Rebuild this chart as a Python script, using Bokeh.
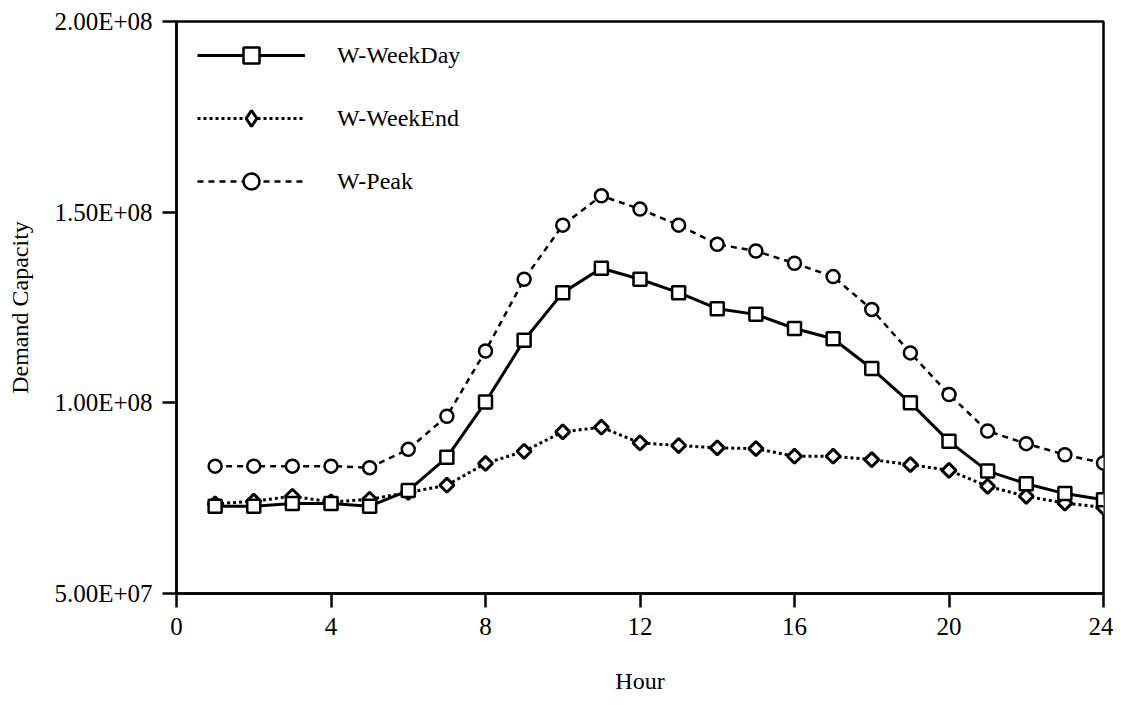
import math
from bokeh.plotting import figure
from bokeh.models import ColumnDataSource, Legend, LegendItem, FixedTicker, Range1d
from bokeh.embed import file_html
from bokeh.resources import INLINE

# ---- data ----
hours = list(range(1, 25))
weekday = [72.9, 72.9, 73.6, 73.6, 72.9, 77.0, 85.7, 100.2, 116.4, 128.9, 135.3, 132.4,
           128.9, 124.7, 123.2, 119.5, 116.8, 109.0, 100.0, 89.9, 82.1, 78.8, 76.2, 74.6]
weekend = [73.5, 74.2, 75.5, 74.0, 74.7, 76.5, 78.4, 84.1, 87.3, 92.4, 93.6, 89.5,
           88.8, 88.2, 88.0, 86.0, 86.0, 85.1, 83.8, 82.3, 78.1, 75.5, 73.7, 72.6]
peak = [83.4, 83.4, 83.4, 83.4, 83.0, 87.8, 96.5, 113.6, 132.4, 146.6, 154.3, 150.8,
        146.6, 141.6, 139.8, 136.6, 133.1, 124.5, 113.1, 102.2, 92.6, 89.3, 86.4, 84.2]
series_names = ["W-WeekDay", "W-WeekEnd", "W-Peak"]
x_ticks = [0, 4, 8, 12, 16, 20, 24]
y_ticks = [5.0e7, 1.0e8, 1.5e8, 2.0e8]
y_tick_labels = ["5.00E+07", "1.00E+08", "1.50E+08", "2.00E+08"]

scale = 1e6
src = ColumnDataSource(dict(
    x=hours,
    wd=[v * scale for v in weekday],
    we=[v * scale for v in weekend],
    pk=[v * scale for v in peak],
))

FONT = "Liberation Serif"

p = figure(
    frame_width=927, frame_height=572,
    min_border_left=176, min_border_top=21, min_border_right=10, min_border_bottom=0,
    x_range=Range1d(0, 24), y_range=Range1d(5e7, 2e8),
    output_backend="svg", toolbar_location=None,
    background_fill_color="white", border_fill_color="white",
)
p.grid.visible = False
p.outline_line_color = "black"
p.outline_line_width = 2.5
p.outline_line_alpha = 1.0

# axes
p.xaxis.ticker = FixedTicker(ticks=x_ticks)
p.yaxis.ticker = FixedTicker(ticks=y_ticks)
p.yaxis.major_label_overrides = {t: l for t, l in zip(y_ticks, y_tick_labels)}
for ax in (p.xaxis, p.yaxis):
    ax.axis_line_color = "black"
    ax.axis_line_width = 2.5
    ax.major_tick_line_color = "black"
    ax.major_tick_line_width = 2.5
    ax.major_tick_out = 14
    ax.major_tick_in = 0
    ax.minor_tick_line_color = None
    ax.major_label_text_font = FONT
    ax.major_label_text_font_size = "25px"
    ax.major_label_text_color = "black"
    ax.axis_label_text_font = FONT
    ax.axis_label_text_font_size = "24px"
    ax.axis_label_text_font_style = "normal"
    ax.axis_label_text_color = "black"

p.xaxis.axis_label = "Hour"
p.yaxis.axis_label = "Demand Capacity"
p.xaxis.major_label_standoff = 10
p.yaxis.major_label_standoff = 10
p.xaxis.axis_label_standoff = 30
p.yaxis.axis_label_standoff = 18

# series (weekend first so weekday squares sit on top)
we_line = p.line("x", "we", source=src, line_color="black", line_width=3, line_dash="3 3")
we_mark = p.scatter("x", "we", source=src, marker="square", size=10, angle=math.pi / 4,
                    fill_color="white", line_color="black", line_width=3)
# diamond-shaped marker used only for the legend sample
we_key = p.scatter("x", "we", source=src, marker="diamond", size=17,
                   fill_color="white", line_color="black", line_width=3, visible=False)

wd_line = p.line("x", "wd", source=src, line_color="black", line_width=3)
wd_mark = p.scatter("x", "wd", source=src, marker="square", size=13,
                    fill_color="white", line_color="black", line_width=2.5)

pk_line = p.line("x", "pk", source=src, line_color="black", line_width=2.5, line_dash="6 5")
pk_mark = p.scatter("x", "pk", source=src, marker="circle", size=13,
                    fill_color="white", line_color="black", line_width=2.5)

legend = Legend(
    items=[
        LegendItem(label=series_names[0], renderers=[wd_line, wd_mark]),
        LegendItem(label=series_names[1], renderers=[we_line, we_key]),
        LegendItem(label=series_names[2], renderers=[pk_line, pk_mark]),
    ],
    location=(21, 392),
    glyph_width=108, glyph_height=40, label_height=40,
    spacing=23, padding=0, margin=0,
    label_standoff=32,
    label_text_font=FONT, label_text_font_size="24px", label_text_color="black",
    border_line_color=None, background_fill_alpha=0.0,
)
p.add_layout(legend, "center")

open("out.html", "w").write(file_html(p, INLINE))
